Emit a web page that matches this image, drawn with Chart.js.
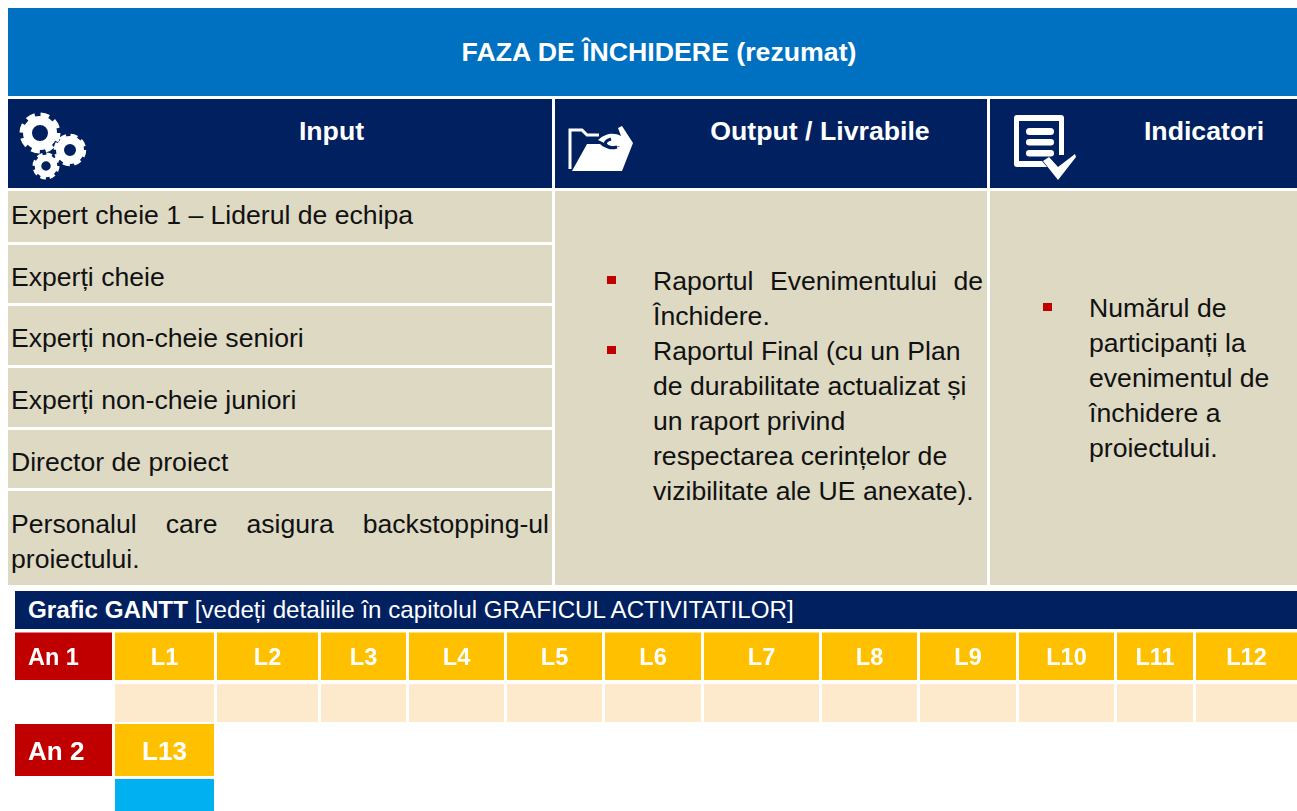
<!DOCTYPE html>
<html lang="ro">
<head>
<meta charset="UTF-8" />
<title>Faza de inchidere</title>
<script src="https://cdn.jsdelivr.net/npm/chart.js"></script>
<style>
  html, body { margin: 0; padding: 0; background: #fff; }
  body { position: relative; width: 1297px; height: 811px; overflow: hidden; font-family: "Liberation Sans", Arial, sans-serif; color: #111; }
  .box { position: absolute; box-sizing: border-box; }
  .title { left: 8px; top: 8px; width: 1289px; height: 88px; padding-left: 13px; background: #0070c0; color: #fff; font-weight: bold; font-size: 26.7px; line-height: 88px; text-align: center; }
  .head { top: 99px; height: 89px; background: #002060; color: #fff; font-weight: bold; font-size: 26.7px; line-height: 64px; text-align: center; }
  .head svg { position: absolute; fill: #fff; }
  .row { left: 8px; width: 544px; background: #ddd9c3; font-size: 26.6px; padding-left: 3px; padding-right: 3px; display: flex; align-items: center; line-height: 35px; }
  .cell { background: #ddd9c3; top: 191px; height: 394px; font-size: 26.6px; line-height: 35px; }
  .cell ul { list-style: none; margin: 0; padding: 0; position: absolute; }
  .cell li { position: relative; }
  .cell li::before { content: ""; position: absolute; left: -46px; top: 12px; width: 9px; height: 8px; background: #c00000; }
  .justify { text-align: justify; }
  .ganttTitle { left: 15px; top: 591px; width: 1282px; height: 38px; background: #002060; color: #fff; font-size: 24.2px; line-height: 38px; padding-left: 13px; }
  #gantt { position: absolute; left: 0; top: 630px; }
</style>
</head>
<body>
  <div class="box title">FAZA DE ÎNCHIDERE (rezumat)</div>

  <div class="box head" style="left:8px;width:544px;padding-left:103px">Input
    <svg style="left:9px;top:12px" width="74" height="72" viewBox="0 0 74 72">
      <circle cx="23" cy="22" r="12.5" fill="none" stroke="#fff" stroke-width="9"/>
      <circle cx="23" cy="22" r="18" fill="none" stroke="#fff" stroke-width="5" stroke-dasharray="8.5 5.64"/>
      <circle cx="53" cy="39" r="10" fill="none" stroke="#fff" stroke-width="8"/>
      <circle cx="53" cy="39" r="14" fill="none" stroke="#fff" stroke-width="4.5" stroke-dasharray="6.8 4.2"/>
      <circle cx="29" cy="55" r="8" fill="none" stroke="#fff" stroke-width="6.5"/>
      <circle cx="29" cy="55" r="11.5" fill="none" stroke="#fff" stroke-width="4" stroke-dasharray="5.4 3.63"/>
    </svg>
  </div>
  <div class="box head" style="left:555px;width:432px;padding-left:98px">Output / Livrabile
    <svg style="left:12px;top:26px" width="68" height="48" viewBox="0 0 68 48">
      <path d="M3 44V5H15L20 10H32" fill="none" stroke="#fff" stroke-width="3"/>
      <path d="M5 46L20 19H33Q40 26 50 22L66 18L55 46Z"/>
      <path d="M31 15C40 7 48 8 54 11L51 3L55 1L66 18L56 24L52 21C46 24 38 18 31 15Z"/>
      <path d="M50 22C40 25 33 17 44 14" fill="none" stroke="#002060" stroke-width="3"/>
    </svg>
  </div>
  <div class="box head" style="left:990px;width:307px;padding-left:121px">Indicatori
    <svg style="left:23px;top:16px" width="66" height="68" viewBox="0 0 66 68">
      <path d="M4 0H48q3 0 3 3V40h-5V6H6V46H29l5 6H4q-3 0-3-3V3q0-3 3-3z"/>
      <rect x="13" y="13" width="28" height="7" rx="3.5"/>
      <rect x="13" y="24" width="28" height="6.5" rx="3.2"/>
      <rect x="13" y="35" width="28" height="6.5" rx="3.2"/>
      <path d="M30 46L36 42L45 52L62 39L63 42L45 65Z"/>
    </svg>
  </div>

  <div class="box row" style="top:191px;height:51px;padding-bottom:2px">Expert cheie 1 – Liderul de echipa</div>
  <div class="box row" style="top:245px;height:58px;padding-top:6px">Experți cheie</div>
  <div class="box row" style="top:306px;height:59px;padding-top:6px">Experți non-cheie seniori</div>
  <div class="box row" style="top:368px;height:59px;padding-top:6px">Experți non-cheie juniori</div>
  <div class="box row" style="top:430px;height:58px;padding-top:6px">Director de proiect</div>
  <div class="box row" style="top:491px;height:94px;padding-top:8px"><div class="justify">Personalul care asigura backstopping-ul proiectului.</div></div>

  <div class="box cell" style="left:555px;width:432px">
    <ul style="left:98px;top:73px;width:330px">
      <li class="justify">Raportul Evenimentului de Închidere.</li>
      <li>Raportul Final (cu un Plan de durabilitate actualizat și un raport privind respectarea cerințelor de vizibilitate ale UE anexate).</li>
    </ul>
  </div>
  <div class="box cell" style="left:990px;width:307px">
    <ul style="left:99px;top:100px;width:200px">
      <li>Numărul de participanți la evenimentul de închidere a proiectului.</li>
    </ul>
  </div>

  <div class="box ganttTitle"><b>Grafic GANTT</b> [vedeți detaliile în capitolul GRAFICUL ACTIVITATILOR]</div>

  <canvas id="gantt" width="1300" height="191"></canvas>

<script>
const rows = ['An 1', 'Luni An 1', 'An 2', 'Luni An 2'];
const years = ['An 1', 'An 2'];
const months1 = ['L1', 'L2', 'L3', 'L4', 'L5', 'L6', 'L7', 'L8', 'L9', 'L10', 'L11', 'L12'];
const months2 = ['L13'];
// column widths
const marginWidth = 15;
const yearWidth = 100;
const monthWidths = [102, 104, 88, 98, 98, 99, 118, 98, 99, 98, 79, 104];

// month edges along the x axis
const firstMonth = marginWidth + yearWidth;
const monthEdges = [firstMonth];
monthWidths.forEach(w => monthEdges.push(monthEdges[monthEdges.length - 1] + w));

function monthBars(labels, row) {
  return labels.map((l, i) => ({ x: [monthEdges[i], monthEdges[i + 1]], y: row, label: l }));
}

function yearBar(i, row) {
  return [{ x: [marginWidth, firstMonth], y: row, label: years[i] }];
}

const gap = { left: 0, top: 0, bottom: 0, right: 3 };
const common = { borderColor: '#fff', borderWidth: gap, borderSkipped: false, inflateAmount: 0, grouped: false };

new Chart(document.getElementById('gantt'), {
  type: 'bar',
  data: {
    labels: rows,
    datasets: [
      { ...common, data: yearBar(0, rows[0]), backgroundColor: '#c00000', barThickness: 48, labelAlign: 'left', labelSize: 23.5 },
      { ...common, data: monthBars(months1, rows[0]), backgroundColor: '#ffc000', barThickness: 48, labelSize: 23.5 },
      { ...common, data: monthBars(months1.map(() => ''), rows[1]), backgroundColor: '#fde9cb', barThickness: 38 },
      { ...common, data: yearBar(1, rows[2]), backgroundColor: '#c00000', barThickness: 52, labelAlign: 'left', labelSize: 26 },
      { ...common, data: monthBars(months2, rows[2]), backgroundColor: '#ffc000', barThickness: 52, labelSize: 26 },
      { ...common, data: monthBars([''], rows[3]), backgroundColor: '#00b0f0', barThickness: 36 }
    ]
  },
  options: {
    indexAxis: 'y',
    responsive: false,
    animation: false,
    layout: { padding: { top: 2.5, left: 0, right: 0, bottom: 0.5 } },
    plugins: { legend: { display: false }, tooltip: { enabled: false } },
    scales: {
      x: { type: 'linear', min: 0, max: 1300, display: false },
      y: { type: 'category', display: false }
    }
  },
  plugins: [{
    id: 'cellLabels',
    afterDatasetsDraw(chart) {
      const ctx = chart.ctx;
      ctx.save();
      ctx.fillStyle = '#fff';
      ctx.textBaseline = 'middle';
      chart.data.datasets.forEach((ds, d) => {
        ctx.font = 'bold ' + ds.labelSize + 'px "Liberation Sans", Arial, sans-serif';
        chart.getDatasetMeta(d).data.forEach((bar, i) => {
          const text = ds.data[i].label;
          if (!text) return;
          if (ds.labelAlign === 'left') {
            ctx.textAlign = 'left';
            ctx.fillText(text, bar.base + 13, bar.y + 2.5);
          } else {
            ctx.textAlign = 'center';
            ctx.fillText(text, (bar.base + bar.x - 3) / 2, bar.y + 2.5);
          }
        });
      });
      ctx.restore();
    }
  }]
});
</script>
</body>
</html>
